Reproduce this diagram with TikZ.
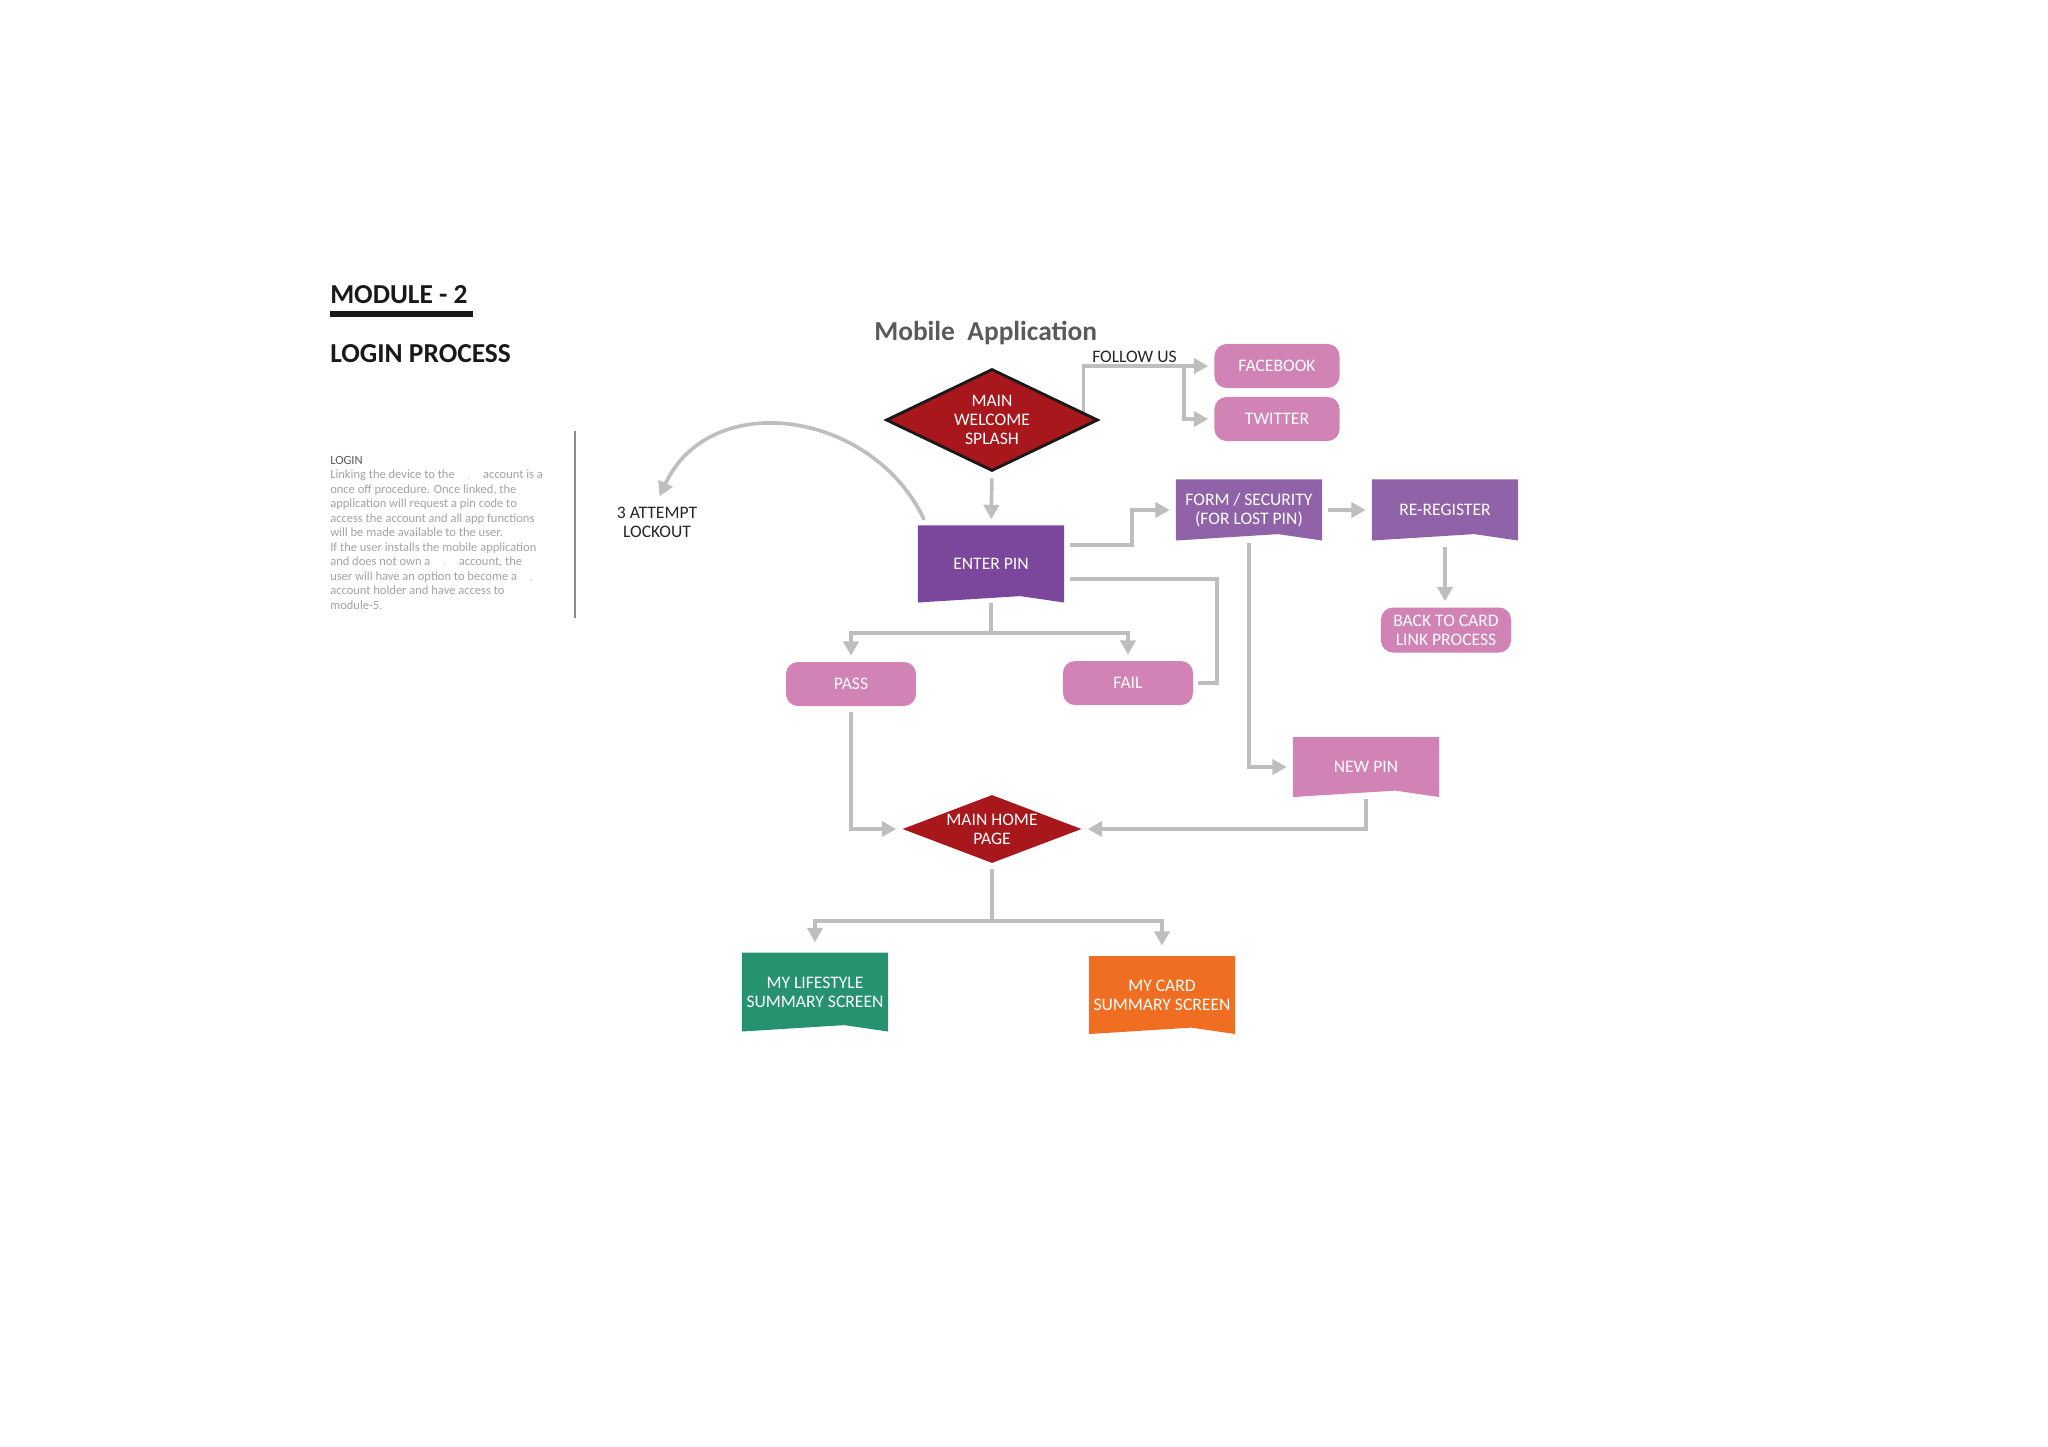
\documentclass[tikz,border=0pt]{standalone}
\usepackage{fontspec}
\setmainfont{Carlito}
\usetikzlibrary{shapes.geometric,arrows.meta,calc,backgrounds}

\definecolor{splashred}{HTML}{A8171C}
\definecolor{pinpurple}{HTML}{7B479C}
\definecolor{formpurple}{HTML}{9063A8}
\definecolor{linkpink}{HTML}{D283B5}
\definecolor{lifegreen}{HTML}{27926F}
\definecolor{cardorange}{HTML}{F06E22}
\definecolor{flowgray}{HTML}{BEBEBE}
\definecolor{titlegray}{HTML}{5A5A5A}
\definecolor{bodygray}{HTML}{A3A3A3}

\tikzset{
    nodetext/.style={text=white, align=center, font=\fontsize{12.5}{13.5}\selectfont},
    pill/.style={nodetext, fill=linkpink, rounded corners=0.3cm, inner sep=0pt, minimum width=3.25cm, minimum height=1.1cm},
    banner/.style={nodetext, inner sep=0pt, minimum width=3.65cm,
        path picture={\fill[#1] (path picture bounding box.north west) -- (path picture bounding box.north east)
            -- (path picture bounding box.south east)
            -- ($(path picture bounding box.south west)!0.7!(path picture bounding box.south east)+(0,0.16cm)$)
            -- (path picture bounding box.south west) -- cycle;}},
    decision/.style={nodetext, diamond, fill=splashred, inner sep=0pt},
    flow/.style={draw=flowgray, line width=2.6pt, -{Triangle[length=0.36cm,width=0.38cm]}, shorten >=0.15cm, shorten <=0.15cm},
    link/.style={draw=flowgray, line width=2.6pt}
}

\begin{document}
\begin{tikzpicture}[x=0.025cm, y=-0.025cm]
    \useasboundingbox (0,0) rectangle (2048,1447);

    % left column
    \node[anchor=base west, inner sep=0pt, text=black!90, font=\fontsize{19.5}{21}\selectfont\bfseries] (module) at (330,303) {MODULE - 2};
    \fill[black!90] (330,311) rectangle (473,317);
    \node[anchor=base west, inner sep=0pt, text=black!90, font=\fontsize{19.5}{21}\selectfont\bfseries] (process) at (330,362) {LOGIN PROCESS};
    \node[anchor=north west, inner sep=0pt, align=left, text=bodygray, font=\fontsize{8.9}{10.3}\selectfont] (about) at (330,456) {%
        {\color{titlegray}LOGIN}\\
        Linking the device to the\hspace{9pt}{\color{bodygray!40},}\hspace{9pt}account is a\\
        once off procedure. Once linked, the\\
        application will request a pin code to\\
        access the account and all app functions\\
        will be made available to the user.\\
        If the user installs the mobile application\\
        and does not own a\hspace{9pt}{\color{bodygray!40},}\hspace{9pt}account, the\\
        user will have an option to become a\hspace{9pt}{\color{bodygray!40},}\\
        account holder and have access to\\
        module-5.};
    \draw[black!45, line width=0.9pt] (575,431) -- (575,618);

    % flow chart
    \node[anchor=base west, inner sep=0pt, text=titlegray, font=\fontsize{19.5}{21}\selectfont\bfseries] (apptitle) at (874,340) {Mobile\ \ Application};
    \node[anchor=base west, inner sep=0pt, text=black!85, font=\fontsize{12.5}{13.5}\selectfont] (follow) at (1092,362) {FOLLOW US};

    \node[decision, draw=black!90, line width=2pt, shape aspect=2, minimum width=5.3cm, minimum height=2.55cm] (splash) at (992,420) {MAIN\\WELCOME\\SPLASH};
    \node[pill, minimum width=3.125cm] (facebook) at (1277,366) {FACEBOOK};
    \node[pill, minimum width=3.125cm] (twitter) at (1277,419) {TWITTER};

    \node[align=center, text=black!85, font=\fontsize{12.5}{13.5}\selectfont] (lockout) at (657,522) {3 ATTEMPT\\LOCKOUT};
    \node[banner=pinpurple, minimum height=1.925cm] (enterpin) at (991,564) {ENTER PIN};
    \node[banner=formpurple, minimum height=1.525cm] (formsec) at (1249,510) {FORM / SECURITY\\(FOR LOST PIN)};
    \node[banner=formpurple, minimum height=1.525cm] (reregister) at (1445,510) {RE-REGISTER};
    \node[pill, minimum height=1.125cm] (backcard) at (1446,630) {BACK TO CARD\\LINK PROCESS};

    \node[pill] (pass) at (851,684) {PASS};
    \node[pill] (fail) at (1128,683) {FAIL};
    \node[banner=linkpink, minimum height=1.5cm] (newpin) at (1366,767) {NEW PIN};

    \node[decision, shape aspect=2.6, minimum width=4.475cm, minimum height=1.7cm] (homepage) at (992,829) {MAIN HOME\\PAGE};
    \node[banner=lifegreen, minimum height=1.975cm] (lifestyle) at (815,992) {MY LIFESTYLE\\SUMMARY SCREEN};
    \node[banner=cardorange, minimum height=1.95cm] (mycard) at (1162,995) {MY CARD\\SUMMARY SCREEN};

    \begin{scope}[on background layer]
        \fill[white] (0,0) rectangle (2048,1447);

        \draw[flow, shorten <=0pt] ($(splash.east)+(-16,0)$) |- (facebook.west);
        \draw[flow, shorten <=0pt] ($(facebook.west)+(-30,0)$) |- (twitter.west);
        \draw[flow] (splash.south) -- (enterpin.north);
        \draw[flow] ($(enterpin.north west)+(9,0)$) to[out=115, in=65, looseness=1.2] (lockout.north);

        \draw[flow] ($(enterpin.east)+(0,-19)$) -- ++(68,0) |- (formsec.west);
        \draw[link, shorten <=0.15cm] ($(enterpin.east)+(0,15)$) -| ($(fail.east)+(24,0)$) -- ($(fail.east)+(5,0)$);
        \draw[flow, shorten <=0pt] (enterpin.south) -- ++(0,30) -| (pass.north);
        \draw[flow, shorten <=0pt] (enterpin.south) -- ++(0,30) -| (fail.north);

        \draw[flow] (formsec) -- (reregister);
        \draw[flow] (reregister.south) -- (reregister.south |- backcard.north);
        \draw[flow, shorten <=0.05cm] (formsec.south) |- (newpin.west);
        \draw[flow, shorten <=0.05cm] (newpin.south) |- (homepage.east);
        \draw[flow] (pass.south) |- (homepage.west);

        \draw[flow, shorten >=0.25cm] (homepage.south) -- ++(0,58) -| (lifestyle.north);
        \draw[flow, shorten >=0.25cm] (homepage.south) -- ++(0,58) -| (mycard.north);
    \end{scope}
\end{tikzpicture}
\end{document}
